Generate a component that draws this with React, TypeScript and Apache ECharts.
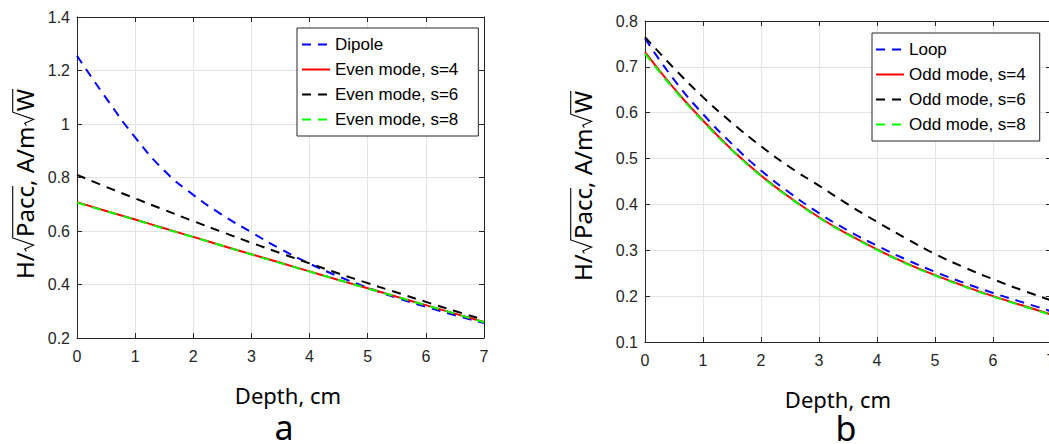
import React, { useEffect, useRef } from "react";
import * as echarts from "echarts";

// Depth, cm
const depth = [0, 0.5, 1, 1.5, 2, 2.5, 3, 3.5, 4, 4.5, 5, 5.5, 6, 6.5, 7];

// Panel a
const dipole = [1.255, 1.097, 0.95, 0.826, 0.735, 0.66, 0.595, 0.533, 0.478, 0.43, 0.388, 0.35, 0.317, 0.285, 0.256];
const evenS4 = [0.708, 0.675, 0.643, 0.61, 0.578, 0.545, 0.513, 0.481, 0.449, 0.417, 0.386, 0.354, 0.323, 0.291, 0.26];
const evenS6 = [0.81, 0.765, 0.722, 0.679, 0.637, 0.596, 0.556, 0.517, 0.479, 0.441, 0.405, 0.37, 0.335, 0.301, 0.268];
const evenS8 = [0.706, 0.674, 0.642, 0.609, 0.577, 0.545, 0.512, 0.48, 0.448, 0.417, 0.385, 0.354, 0.322, 0.291, 0.259];

// Panel b
const loop = [0.762, 0.672, 0.597, 0.532, 0.474, 0.425, 0.381, 0.343, 0.31, 0.28, 0.253, 0.229, 0.207, 0.187, 0.167];
const oddS4 = [0.732, 0.653, 0.583, 0.519, 0.463, 0.415, 0.372, 0.335, 0.302, 0.272, 0.246, 0.222, 0.2, 0.18, 0.16];
const oddS6 = [0.765, 0.697, 0.634, 0.578, 0.527, 0.481, 0.441, 0.4, 0.362, 0.326, 0.292, 0.263, 0.237, 0.213, 0.191];
const oddS8 = [0.729, 0.651, 0.581, 0.518, 0.462, 0.414, 0.371, 0.334, 0.301, 0.271, 0.245, 0.221, 0.199, 0.179, 0.159];

const namesA = ["Dipole", "Even mode, s=4", "Even mode, s=6", "Even mode, s=8"];
const namesB = ["Loop", "Odd mode, s=4", "Odd mode, s=6", "Odd mode, s=8"];
const xTitle = "Depth, cm";
const panelLetters = ["a", "b"];

const BLUE = "#0000ff";
const RED = "#ff0000";
const BLACK = "#000000";
const GREEN = "#00ff00";
const AXIS = "#262626";
const GRIDC = "#e4e4e4";
const TICKFONT = "Liberation Sans";
const LABFONT = "Noto Sans";

function pairs(ys: number[]) {
  return depth.map((x, i) => [x, ys[i]]);
}

let ctx: CanvasRenderingContext2D | null = null;
function measure(text: string, size: number, family: string) {
  if (!ctx) ctx = document.createElement("canvas").getContext("2d");
  if (!ctx) return text.length * size * 0.55;
  ctx.font = `${size}px "${family}"`;
  return ctx.measureText(text).width;
}

function yLabel(cx: number, cy: number, fs: number) {
  const children: any[] = [];
  let x = 0;
  const txt = (s: string) => {
    children.push({
      type: "text",
      x,
      y: 0,
      style: {
        text: s,
        fontSize: fs,
        fontFamily: LABFONT,
        fill: "#000",
        align: "left",
        verticalAlign: "middle",
        lineHeight: fs,
      },
    });
    x += measure(s, fs, LABFONT);
  };
  const sqrt = (rad: string) => {
    const sw = 0.6 * fs;
    const top = -0.47 * fs;
    const bot = 0.4 * fs;
    const rw = measure(rad, fs, LABFONT);
    children.push({
      type: "polyline",
      shape: {
        points: [
          [x + 0.04 * fs, 0.1 * fs],
          [x + 0.14 * fs, 0.03 * fs],
          [x + 0.3 * fs, bot],
          [x + sw, top],
          [x + sw + rw + 0.04 * fs, top],
        ],
      },
      style: { stroke: "#000", lineWidth: 1.1, fill: "none" },
    });
    x += sw + 0.04 * fs;
    txt(rad);
  };
  txt("H/");
  sqrt("Pacc");
  txt(", A/m");
  sqrt("W");
  const L = x;
  return { type: "group", x: cx, y: cy + L / 2, rotation: Math.PI / 2, silent: true, children };
}

function mainAxis(gridIndex: number, min: number, max: number, interval: number, position: string, labelMargin: number) {
  return {
    type: "value",
    gridIndex,
    min,
    max,
    interval,
    position,
    axisLine: { show: true, onZero: false, lineStyle: { color: AXIS, width: 1 } },
    axisTick: { show: true, inside: true, length: 5, lineStyle: { color: AXIS, width: 1 } },
    splitLine: { show: true, lineStyle: { color: GRIDC, width: 1 } },
    axisLabel: {
      show: true,
      color: AXIS,
      fontSize: 16,
      fontFamily: TICKFONT,
      margin: labelMargin,
      formatter: (v: number) => String(+v.toFixed(2)),
    },
  };
}

function boxAxis(gridIndex: number, min: number, max: number, interval: number, position: string) {
  return {
    type: "value",
    gridIndex,
    min,
    max,
    interval,
    position,
    axisLine: { show: true, onZero: false, lineStyle: { color: AXIS, width: 1 } },
    axisTick: { show: true, inside: true, length: 5, lineStyle: { color: AXIS, width: 1 } },
    splitLine: { show: false },
    axisLabel: { show: false },
  };
}

function lineSeries(name: string, ys: number[], color: string, dashed: boolean, xi: number, yi: number) {
  return {
    type: "line",
    name,
    xAxisIndex: xi,
    yAxisIndex: yi,
    data: pairs(ys),
    symbol: "none",
    showSymbol: false,
    smooth: true,
    lineStyle: { color, width: 2, type: dashed ? [9, 7] : "solid" },
    itemStyle: { color },
  };
}

function legendBox(names: string[], left: number, top: number, padding: number[]) {
  return {
    orient: "vertical",
    left,
    top,
    itemWidth: 28,
    itemHeight: 14,
    itemGap: 8,
    padding,
    selectedMode: false,
    backgroundColor: "#ffffff",
    borderColor: AXIS,
    borderWidth: 1,
    borderRadius: 0,
    itemStyle: { opacity: 0, borderWidth: 0 },
    textStyle: { fontFamily: TICKFONT, fontSize: 17, color: "#000", lineHeight: 16 },
    data: names,
  };
}

function plainText(text: string, x: number, y: number, size: number) {
  return {
    type: "text",
    x,
    y,
    silent: true,
    style: {
      text,
      fontSize: size,
      fontFamily: LABFONT,
      fill: "#000",
      align: "center",
      verticalAlign: "middle",
      lineHeight: Math.round(size * 0.85),
    },
  };
}

export default function App() {
  const ref = useRef<HTMLDivElement>(null);
  useEffect(() => {
    if (!ref.current) return;
    const chart = echarts.init(ref.current, null, { renderer: "svg" });
    chart.setOption({
      animation: false,
      backgroundColor: "#ffffff",
      grid: [
        { left: 77, top: 17, width: 407, height: 321, containLabel: false, outerBoundsMode: "none" },
        { left: 645, top: 21, width: 406, height: 321, containLabel: false, outerBoundsMode: "none" },
      ],
      xAxis: [
        mainAxis(0, 0, 7, 1, "bottom", 10),
        boxAxis(0, 0, 7, 1, "top"),
        mainAxis(1, 0, 7, 1, "bottom", 10),
        boxAxis(1, 0, 7, 1, "top"),
      ],
      yAxis: [
        mainAxis(0, 0.2, 1.4, 0.2, "left", 7),
        boxAxis(0, 0.2, 1.4, 0.2, "right"),
        mainAxis(1, 0.1, 0.8, 0.1, "left", 7),
        boxAxis(1, 0.1, 0.8, 0.1, "right"),
      ],
      legend: [legendBox(namesA, 297, 28, [8, 20, 8, 4]), legendBox(namesB, 872, 33, [8, 14, 8, 3])],
      series: [
        lineSeries(namesA[0], dipole, BLUE, true, 0, 0),
        lineSeries(namesA[1], evenS4, RED, false, 0, 0),
        lineSeries(namesA[2], evenS6, BLACK, true, 0, 0),
        lineSeries(namesA[3], evenS8, GREEN, true, 0, 0),
        lineSeries(namesB[0], loop, BLUE, true, 2, 2),
        lineSeries(namesB[1], oddS4, RED, false, 2, 2),
        lineSeries(namesB[2], oddS6, BLACK, true, 2, 2),
        lineSeries(namesB[3], oddS8, GREEN, true, 2, 2),
      ],
      graphic: [
        yLabel(24, 184, 24),
        yLabel(582, 186, 24),
        plainText(xTitle, 288, 395, 22),
        plainText(xTitle, 838, 399, 22),
        plainText(panelLetters[0], 284, 427, 34),
        plainText(panelLetters[1], 846, 428, 34),
      ],
    });
    return () => chart.dispose();
  }, []);
  return (
    <div
      ref={ref}
      style={{ position: "fixed", left: 0, top: 0, width: 1049, height: 444, background: "#fff" }}
    />
  );
}
